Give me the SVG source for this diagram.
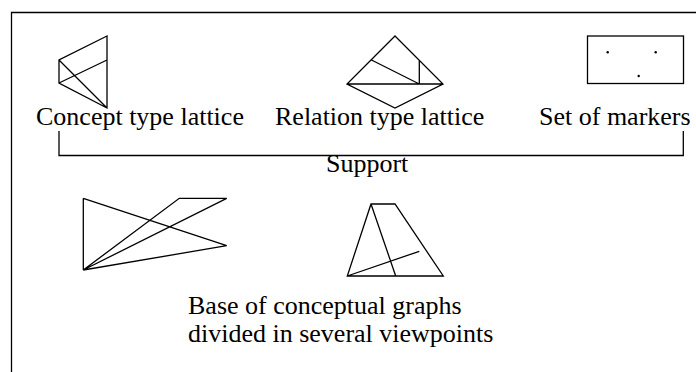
<svg xmlns="http://www.w3.org/2000/svg" width="696" height="372" viewBox="0 0 696 372">
<style>
.ln{fill:none;stroke:#000;stroke-width:1.3;stroke-linejoin:miter}
.t{font-family:"Liberation Serif","Times New Roman",serif;font-size:26px;fill:#000}
</style>
<rect width="696" height="372" fill="#fff"/>
<g id="frame"><path class="ln" d="M11.5,380 V12.5 H700" stroke-width="1"/></g>
<g id="concept-type-lattice">
<path class="ln" d="M107,36 L59,60 L59,83 L107,108 Z M107,36 V108 M59,60 L107,108 M59,83 L107,60"/>
<text class="t" x="36" y="125">Concept type lattice</text>
</g>
<g id="relation-type-lattice">
<path class="ln" d="M395,36 L443,84 L395,108 L347,84 Z M347,84 H443 M371.5,60 L419.3,84 M419.3,60 V84"/>
<text class="t" x="275" y="125">Relation type lattice</text>
</g>
<g id="set-of-markers">
<rect class="ln" x="587.5" y="36" width="96" height="47.5"/>
<circle cx="607.7" cy="52.3" r="1.2"/>
<circle cx="655.7" cy="52.3" r="1.2"/>
<circle cx="638.7" cy="76" r="1.2"/>
<text class="t" x="539" y="125">Set of markers</text>
</g>
<g id="connectors">
<path class="ln" d="M59,131 V155.5 H683.3 V131"/>
</g>
<g id="support"><text class="t" x="326" y="172">Support</text></g>
<g id="viewpoint-1">
<path class="ln" d="M83.3,198.3 V270 M83.3,198.3 L226.7,245.7 L83.3,270 L179.3,198.3 H226.7 L83.3,270"/>
</g>
<g id="viewpoint-2">
<path class="ln" d="M371,204 H395 L443.3,276 H347.3 Z M371,204 L395.7,276 M347.3,276 L419.3,251.3"/>
</g>
<g id="base">
<text class="t" x="188" y="314">Base of conceptual graphs</text>
<text class="t" x="188" y="342">divided in several viewpoints</text>
</g>
</svg>
